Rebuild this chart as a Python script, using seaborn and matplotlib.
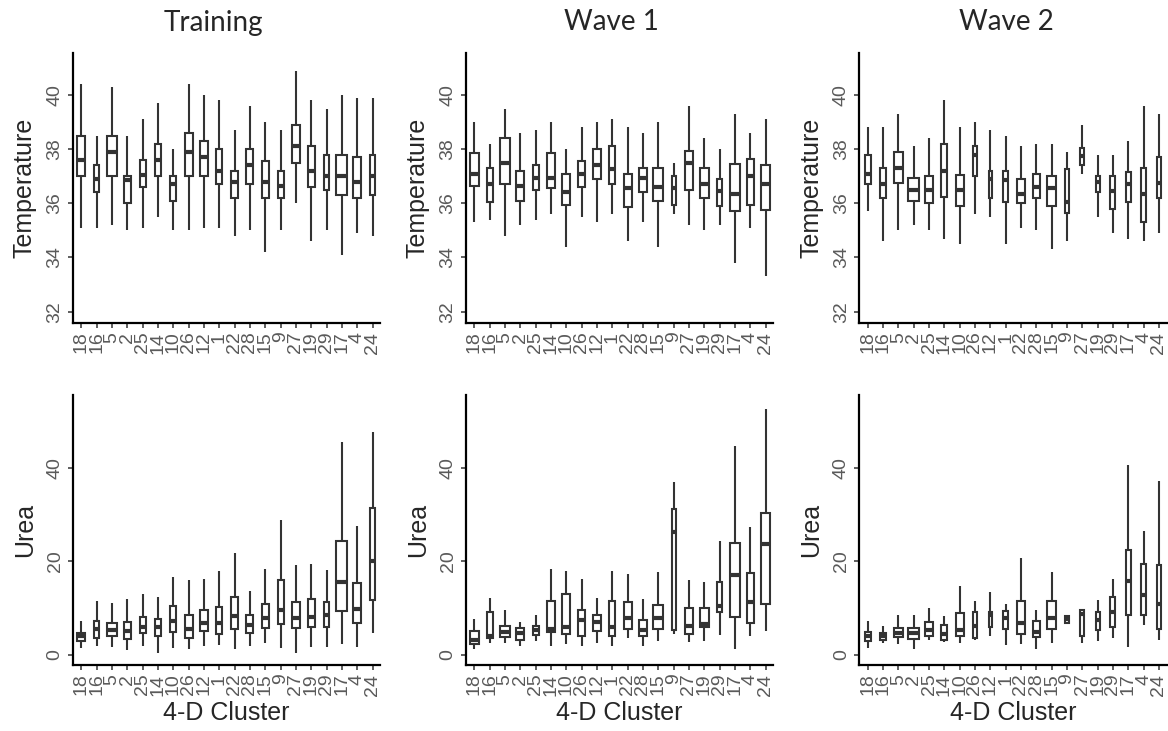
import numpy as np
import pandas as pd
import seaborn as sns
import matplotlib.pyplot as plt

# clusters in plotting order
clusters = ['18', '16', '5', '2', '25', '14', '10', '26', '12', '1',
            '22', '28', '15', '9', '27', '19', '29', '17', '4', '24']
waves = ['Training', 'Wave 1', 'Wave 2']

# box width of each cluster (varies with group size), one list per wave
width_training = [0.52, 0.35, 0.61, 0.44, 0.41, 0.44, 0.39, 0.50, 0.52, 0.37,
                  0.50, 0.46, 0.44, 0.39, 0.48, 0.46, 0.37, 0.72, 0.52, 0.35]
width_wave1 = [0.63, 0.39, 0.65, 0.52, 0.41, 0.50, 0.52, 0.44, 0.52, 0.41,
               0.54, 0.57, 0.68, 0.26, 0.52, 0.57, 0.37, 0.65, 0.48, 0.57]
width_wave2 = [0.41, 0.35, 0.57, 0.74, 0.50, 0.39, 0.52, 0.24, 0.22, 0.31,
               0.57, 0.48, 0.63, 0.24, 0.24, 0.26, 0.33, 0.35, 0.37, 0.28]

# Temperature - Training
temp_tr_lo = [35.1, 35.1, 35.2, 35.0, 35.1, 35.5, 35.0, 35.0, 35.1, 35.1,
              34.8, 35.0, 34.2, 35.0, 36.0, 34.6, 35.0, 34.1, 34.9, 34.8]
temp_tr_q1 = [37.0, 36.4, 37.0, 36.0, 36.6, 37.0, 36.1, 37.0, 37.0, 36.7,
              36.2, 36.7, 36.2, 36.2, 37.5, 36.6, 36.5, 36.3, 36.2, 36.3]
temp_tr_med = [37.6, 36.9, 37.9, 36.85, 37.05, 37.6, 36.7, 37.9, 37.7, 37.2,
               36.8, 37.4, 36.8, 36.65, 38.1, 37.2, 37.0, 37.0, 36.8, 37.0]
temp_tr_q3 = [38.5, 37.4, 38.5, 37.0, 37.6, 38.2, 37.0, 38.6, 38.3, 38.0,
              37.2, 38.0, 37.55, 37.2, 38.9, 38.1, 37.8, 37.8, 37.7, 37.8]
temp_tr_hi = [40.4, 38.5, 40.3, 38.5, 39.1, 39.7, 38.0, 40.4, 40.0, 39.8,
              38.7, 39.6, 39.0, 38.7, 40.9, 39.8, 39.5, 40.0, 39.9, 39.9]

# Temperature - Wave 1
temp_w1_lo = [35.3, 35.4, 34.8, 35.2, 35.4, 35.6, 34.4, 35.5, 35.3, 35.6,
              34.6, 35.3, 34.4, 35.6, 35.2, 35.0, 35.2, 33.8, 35.1, 33.3]
temp_w1_q1 = [36.65, 36.05, 36.7, 36.1, 36.5, 36.55, 35.95, 36.6, 36.9, 36.7,
              35.85, 36.4, 36.1, 35.95, 36.5, 36.2, 35.9, 35.7, 35.95, 35.75]
temp_w1_med = [37.1, 36.7, 37.5, 36.65, 36.95, 36.95, 36.4, 37.1, 37.4, 37.25,
               36.55, 36.95, 36.6, 36.55, 37.5, 36.7, 36.45, 36.35, 37.0, 36.7]
temp_w1_q3 = [37.85, 37.3, 38.4, 37.2, 37.4, 37.85, 37.1, 37.55, 38.0, 38.1,
              37.1, 37.3, 37.3, 37.0, 37.95, 37.3, 36.9, 37.45, 37.65, 37.4]
temp_w1_hi = [39.0, 38.2, 39.5, 38.6, 38.7, 39.0, 38.0, 38.8, 39.0, 39.1,
              38.8, 38.6, 39.0, 37.5, 39.6, 38.4, 38.0, 39.3, 38.6, 39.1]

# Temperature - Wave 2
temp_w2_lo = [35.7, 34.6, 35.0, 35.2, 35.0, 34.7, 34.5, 35.6, 35.5, 34.5,
              35.1, 35.0, 34.3, 34.6, 37.1, 35.5, 34.9, 34.7, 34.6, 34.9]
temp_w2_q1 = [36.7, 36.2, 36.75, 36.1, 36.0, 36.25, 35.9, 37.0, 36.2, 36.05,
              36.0, 36.2, 35.9, 35.65, 37.4, 36.4, 35.8, 36.05, 35.3, 36.2]
temp_w2_med = [37.1, 36.7, 37.3, 36.5, 36.5, 37.2, 36.5, 37.8, 36.9, 36.85,
               36.35, 36.6, 36.55, 36.05, 37.75, 36.8, 36.45, 36.7, 36.35, 36.75]
temp_w2_q3 = [37.8, 37.3, 37.9, 36.95, 37.0, 38.2, 37.05, 38.1, 37.2, 37.2,
              36.9, 37.1, 37.0, 37.25, 38.05, 37.0, 37.0, 37.15, 37.3, 37.7]
temp_w2_hi = [38.8, 38.8, 39.3, 38.1, 38.4, 39.8, 38.8, 39.0, 38.7, 38.5,
              38.1, 38.2, 38.2, 37.9, 38.9, 37.8, 37.8, 38.3, 39.6, 39.3]

# Urea - Training
urea_tr_lo = [1.4, 1.8, 1.6, 1.0, 1.8, 0.4, 1.4, 1.2, 1.8, 2.1,
              1.2, 1.8, 2.5, 1.4, 0.4, 1.6, 1.6, 2.3, 1.6, 4.6]
urea_tr_q1 = [3.0, 3.6, 3.9, 3.4, 4.6, 4.0, 4.9, 3.6, 5.0, 4.4,
              5.6, 4.6, 5.7, 6.6, 5.7, 5.9, 6.0, 9.4, 6.8, 11.8]
urea_tr_med = [3.9, 5.5, 5.3, 5.0, 6.0, 5.9, 7.2, 5.4, 6.8, 6.8,
               8.3, 6.4, 7.9, 9.6, 7.9, 8.0, 8.6, 15.5, 9.8, 20.0]
urea_tr_q3 = [4.7, 7.2, 6.8, 7.0, 8.0, 7.6, 10.4, 8.5, 9.6, 10.3,
              12.3, 8.4, 10.9, 16.0, 11.2, 11.9, 11.2, 24.3, 15.4, 31.4]
urea_tr_hi = [7.2, 11.6, 11.0, 12.0, 12.9, 12.3, 16.6, 15.9, 16.3, 18.0,
              21.7, 13.6, 18.4, 28.9, 19.3, 19.5, 18.2, 45.6, 27.6, 47.7]

# Urea - Wave 1
urea_w1_lo = [1.2, 2.5, 2.5, 1.8, 3.0, 1.8, 2.2, 1.9, 2.4, 1.8,
              3.6, 1.8, 2.9, 4.4, 2.7, 3.0, 4.3, 1.2, 3.9, 5.0]
urea_w1_q1 = [2.3, 3.5, 3.7, 3.2, 4.3, 4.8, 4.4, 4.1, 5.0, 3.9,
              5.5, 4.1, 5.5, 5.2, 4.4, 5.9, 9.2, 8.0, 6.8, 10.9]
urea_w1_med = [3.2, 4.1, 4.8, 4.6, 5.2, 5.5, 5.9, 7.4, 6.9, 5.9,
               7.9, 5.2, 7.9, 26.3, 6.2, 6.6, 10.5, 17.0, 11.2, 23.6]
urea_w1_q3 = [5.0, 9.2, 6.2, 5.7, 6.2, 11.6, 13.0, 9.6, 8.6, 11.5,
              11.2, 7.4, 10.7, 31.1, 10.0, 10.0, 15.5, 23.9, 17.5, 30.3]
urea_w1_hi = [7.7, 12.2, 9.5, 6.9, 8.4, 18.3, 17.9, 16.2, 12.2, 17.9,
              17.2, 12.0, 17.7, 37.0, 15.9, 15.5, 24.3, 44.7, 27.3, 52.5]

# Urea - Wave 2
urea_w2_lo = [1.4, 2.4, 2.2, 1.2, 3.2, 2.7, 2.5, 3.2, 3.9, 2.1,
              2.3, 1.2, 2.5, 6.6, 2.4, 3.0, 3.5, 1.6, 6.4, 3.2]
urea_w2_q1 = [2.9, 3.2, 3.7, 3.4, 3.9, 3.2, 4.1, 3.6, 5.9, 5.5,
              4.4, 3.7, 5.5, 6.8, 4.1, 5.3, 5.9, 8.4, 8.6, 5.5]
urea_w2_med = [3.9, 4.1, 4.7, 4.7, 5.2, 4.4, 5.3, 6.1, 8.4, 7.9,
               6.8, 4.9, 7.8, 7.7, 8.7, 7.4, 9.1, 15.7, 12.7, 10.9]
urea_w2_q3 = [4.8, 4.7, 5.7, 5.7, 6.9, 6.4, 8.9, 9.2, 9.2, 9.3,
              11.4, 7.3, 11.4, 8.2, 9.5, 9.2, 12.3, 22.5, 19.5, 19.1]
urea_w2_hi = [7.3, 6.1, 8.4, 8.6, 10.0, 8.2, 14.7, 11.6, 13.4, 10.9,
              20.8, 9.6, 17.8, 8.4, 9.8, 11.7, 16.2, 40.7, 26.4, 37.1]


def long_table(lo, q1, med, q3, hi):
    # five values per cluster -> quartiles and range reproduce the box exactly
    rows = []
    for i, c in enumerate(clusters):
        for v in (lo[i], q1[i], med[i], q3[i], hi[i]):
            rows.append({'cluster': c, 'value': v})
    return pd.DataFrame(rows)


panels = {
    (0, 0): long_table(temp_tr_lo, temp_tr_q1, temp_tr_med, temp_tr_q3, temp_tr_hi),
    (0, 1): long_table(temp_w1_lo, temp_w1_q1, temp_w1_med, temp_w1_q3, temp_w1_hi),
    (0, 2): long_table(temp_w2_lo, temp_w2_q1, temp_w2_med, temp_w2_q3, temp_w2_hi),
    (1, 0): long_table(urea_tr_lo, urea_tr_q1, urea_tr_med, urea_tr_q3, urea_tr_hi),
    (1, 1): long_table(urea_w1_lo, urea_w1_q1, urea_w1_med, urea_w1_q3, urea_w1_hi),
    (1, 2): long_table(urea_w2_lo, urea_w2_q1, urea_w2_med, urea_w2_q3, urea_w2_hi),
}
widths = [width_training, width_wave1, width_wave2]

sns.set_style('ticks')
plt.rcParams['font.family'] = ['Liberation Sans', 'DejaVu Sans']

W, H = 1168, 731
fig = plt.figure(figsize=(W / 100, H / 100), dpi=100)

col_left = [72.7, 465.7, 859.0]
ax_w = 307.5
row_top = [53.0, 395.0]
ax_h = 269.5

ylabels = ['Temperature', 'Urea']
ylims = [(31.6, 41.55), (-2.1, 55.6)]
yticks = [[32, 34, 36, 38, 40], [0, 20, 40]]
tick_grey = '#5a5a5a'
line_col = '#333333'

for r in range(2):
    for c in range(3):
        rect = [col_left[c] / W, 1 - (row_top[r] + ax_h) / H, ax_w / W, ax_h / H]
        ax = fig.add_axes(rect)
        df = panels[(r, c)]
        for cl, w in zip(clusters, widths[c]):
            sns.boxplot(data=df[df['cluster'] == cl], x='cluster', y='value',
                        order=clusters, width=w, whis=(0, 100), showcaps=False,
                        color='white', linecolor=line_col, linewidth=1.5,
                        medianprops={'linewidth': 3.0}, ax=ax)
        ax.set_xlim(-0.57, 19.5)
        ax.set_ylim(*ylims[r])
        ax.set_yticks(yticks[r])
        ax.set_yticklabels([str(t) for t in yticks[r]], rotation=90, va='center',
                           fontsize=14, color=tick_grey)
        ax.set_xticks(range(len(clusters)))
        ax.set_xticklabels(clusters, rotation=90, fontsize=14, color=tick_grey)
        ax.tick_params(axis='both', length=3.6, width=1.1, color=line_col, pad=3)
        for side in ['left', 'bottom']:
            ax.spines[side].set_linewidth(1.6)
            ax.spines[side].set_color('black')
        sns.despine(ax=ax)
        ax.set_ylabel(ylabels[r], fontsize=18, labelpad=7)
        if r == 1:
            ax.set_xlabel('4-D Cluster', fontsize=18, labelpad=4)
        else:
            ax.set_xlabel('')

title_x = [213, 611, 1006]
for t, x in zip(waves, title_x):
    fig.text(x / W, 1 - 30.5 / H, t, ha='center', va='baseline',
             fontsize=20, family='Lato')

fig.savefig('out.png', dpi=100)
